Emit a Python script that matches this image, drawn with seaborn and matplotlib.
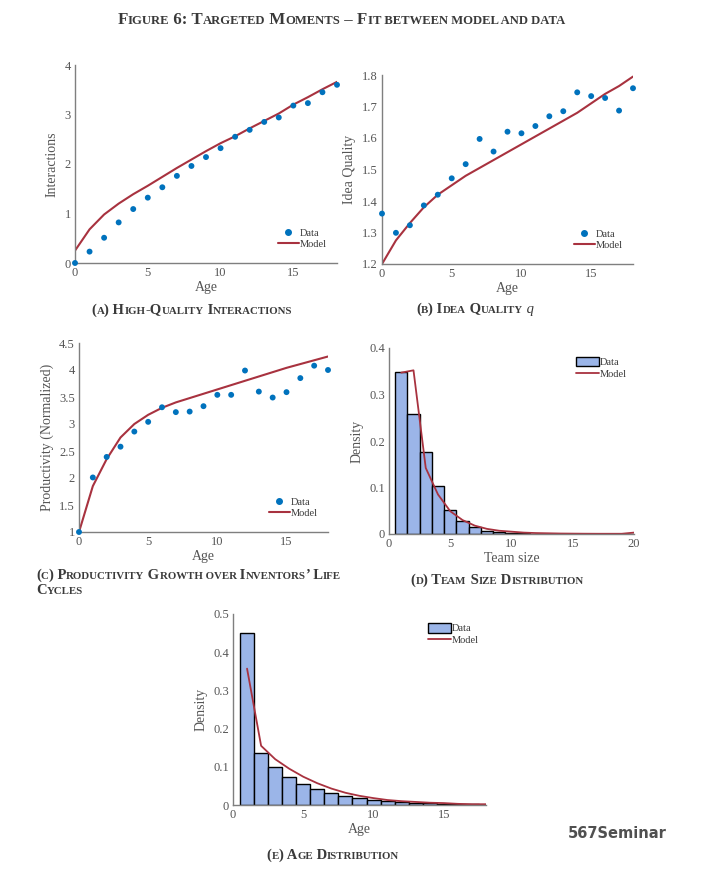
import numpy as np
import pandas as pd
import matplotlib
matplotlib.use("Agg")
import matplotlib.pyplot as plt
import seaborn as sns
from matplotlib.ticker import FuncFormatter
from matplotlib.offsetbox import TextArea, HPacker, AnnotationBbox
from matplotlib.lines import Line2D
from matplotlib.patches import Patch

# ---- data ----
age = list(range(19))

inter_data = [0.0, 0.23, 0.51, 0.82, 1.09, 1.32, 1.53, 1.76, 1.96, 2.14, 2.32,
              2.55, 2.69, 2.85, 2.94, 3.18, 3.23, 3.45, 3.60]
inter_model = [0.25, 0.68, 0.98, 1.20, 1.39, 1.56, 1.74, 1.92, 2.09, 2.26, 2.42,
               2.56, 2.72, 2.87, 3.02, 3.20, 3.35, 3.51, 3.66]

quality_data = [1.360, 1.299, 1.323, 1.386, 1.420, 1.472, 1.517, 1.597, 1.557, 1.620,
                1.615, 1.638, 1.669, 1.685, 1.745, 1.733, 1.727, 1.687, 1.758]
quality_model = [1.20, 1.275, 1.33, 1.38, 1.42, 1.45, 1.48, 1.505, 1.53, 1.555,
                 1.58, 1.605, 1.63, 1.655, 1.68, 1.71, 1.74, 1.765, 1.795]

prod_data = [1.00, 2.01, 2.39, 2.58, 2.86, 3.04, 3.31, 3.22, 3.23, 3.33, 3.54,
             3.54, 3.99, 3.60, 3.49, 3.59, 3.85, 4.08, 4.00]
prod_model = [1.00, 1.85, 2.35, 2.75, 3.00, 3.17, 3.30, 3.40, 3.48, 3.56, 3.64,
              3.72, 3.80, 3.88, 3.96, 4.04, 4.11, 4.18, 4.25]

team_size = list(range(1, 21))
team_density = [0.348, 0.259, 0.176, 0.1025, 0.052, 0.027, 0.014, 0.007, 0.0036, 0.002,
                0.0015, 0.001, 0.0008, 0.0006, 0.0005, 0.0004, 0.0003, 0.0003, 0.0002, 0.0004]
team_model = [0.347, 0.352, 0.142, 0.085, 0.049, 0.030, 0.018, 0.011, 0.007, 0.005,
              0.003, 0.002, 0.0015, 0.001, 0.0008, 0.0006, 0.0005, 0.0005, 0.0005, 0.003]

age_bins = list(range(1, 19))
age_density = [0.449, 0.136, 0.0997, 0.073, 0.055, 0.042, 0.031, 0.024, 0.0175, 0.013,
               0.010, 0.008, 0.006, 0.004, 0.003, 0.002, 0.0015, 0.001]
age_model = [0.357, 0.155, 0.120, 0.095, 0.074, 0.057, 0.043, 0.032, 0.024, 0.018,
             0.013, 0.010, 0.008, 0.006, 0.005, 0.003, 0.002, 0.002]

W, H = 711, 876
BLUE = "#0072BD"
RED = "#A8323F"
BAR = "#9bb5e8"
TXT = "#3a3a3a"
SPINE = "#7f7f7f"

sns.set_theme(style="white")
plt.rcParams["font.family"] = ["Liberation Serif", "DejaVu Serif"]
plt.rcParams["text.color"] = TXT
plt.rcParams["axes.labelcolor"] = "#555555"

fig = plt.figure(figsize=(W / 100, H / 100), dpi=100)
fig.patch.set_facecolor("white")


def ax_at(l, t, r, b):
    return fig.add_axes([l / W, 1 - b / H, (r - l) / W, (b - t) / H])


def style(ax, xlim, ylim, xticks, yticks, xlabel, ylabel):
    ax.set_xlim(*xlim)
    ax.set_ylim(*ylim)
    ax.set_xticks(xticks)
    ax.set_yticks(yticks)
    fmt = FuncFormatter(lambda v, p: "%g" % round(v, 3))
    ax.xaxis.set_major_formatter(fmt)
    ax.yaxis.set_major_formatter(fmt)
    for s in ["top", "right"]:
        ax.spines[s].set_visible(False)
    for s in ["left", "bottom"]:
        ax.spines[s].set_color(SPINE)
        ax.spines[s].set_linewidth(1.0)
    ax.tick_params(direction="in", length=3, width=0.8, color=SPINE,
                   labelsize=9, labelcolor="#555555", pad=3)
    ax.set_xlabel(xlabel, fontsize=10, labelpad=1)
    ax.set_ylabel(ylabel, fontsize=10, labelpad=4)
    ax.set_facecolor("white")


def scatter_panel(ax, ydata, ymodel):
    sns.scatterplot(x=age, y=ydata, ax=ax, color=BLUE, s=18, edgecolor="none",
                    label="Data", clip_on=False, zorder=3)
    sns.lineplot(x=age, y=ymodel, ax=ax, color=RED, lw=1.5, label="Model")
    handles = [Line2D([], [], marker="o", ls="none", color=BLUE, markersize=4),
               Line2D([], [], color=RED, lw=1.5)]
    ax.legend(handles, ["Data", "Model"], loc="lower right", frameon=False,
              fontsize=7.5, handlelength=2.0, handletextpad=0.1, borderaxespad=0.6,
              labelspacing=0.15, bbox_to_anchor=(1.0, 0.02))


def hist_panel(ax, xs, dens, model):
    sns.histplot(x=xs, weights=dens, discrete=True, ax=ax, color=BAR, alpha=1,
                 edgecolor="black", linewidth=1.0)
    sns.lineplot(x=xs, y=model, ax=ax, color=RED, lw=1.3)
    handles = [Patch(facecolor=BAR, edgecolor="black", lw=1.0),
               Line2D([], [], color=RED, lw=1.3)]
    ax.legend(handles, ["Data", "Model"], loc="upper right", frameon=False,
              fontsize=7.5, handlelength=2.2, handleheight=1.0, handletextpad=0.1,
              labelspacing=0.1, borderaxespad=0.3, bbox_to_anchor=(1.0, 0.99))


def smallcaps(s, x, y, big=10.5, small=7.8, ha=0.5, tail=None):
    # group chars: lowercase -> small capitals, spaces join the following run
    kinds = []
    for i, ch in enumerate(s):
        if ch == " ":
            nxt = next((c for c in s[i:] if c != " "), "A")
            kinds.append(nxt.islower())
        else:
            kinds.append(ch.islower())
    runs = []
    for ch, k in zip(s, kinds):
        if runs and runs[-1][1] == k:
            runs[-1][0] += ch
        else:
            runs.append([ch, k])
    boxes = [TextArea(t.upper() if k else t,
                      textprops=dict(fontsize=small if k else big, color=TXT,
                                     fontweight="bold"))
             for t, k in runs]
    if tail:
        boxes.append(TextArea(tail, textprops=dict(fontsize=big, color=TXT,
                                                   style="italic")))
    pack = HPacker(children=boxes, align="baseline", pad=0, sep=0)
    ab = AnnotationBbox(pack, (x / W, 1 - y / H), xycoords="figure fraction",
                        frameon=False, box_alignment=(ha, 0.5), pad=0)
    fig.add_artist(ab)


# (a)
ax = ax_at(75, 65, 337, 263)
scatter_panel(ax, inter_data, inter_model)
style(ax, (0, 18), (0, 4), [0, 5, 10, 15], [0, 1, 2, 3, 4], "Age", "Interactions")

# (b)
ax = ax_at(382, 75, 633, 264)
scatter_panel(ax, quality_data, quality_model)
style(ax, (0, 18), (1.2, 1.8), [0, 5, 10, 15], np.arange(1.2, 1.81, 0.1),
      "Age", "Idea Quality")

# (c)
ax = ax_at(79, 343, 328, 532)
scatter_panel(ax, prod_data, prod_model)
style(ax, (0, 18), (1, 4.5), [0, 5, 10, 15], np.arange(1, 4.51, 0.5),
      "Age", "Productivity (Normalized)")

# (d)
ax = ax_at(389, 348, 634, 534)
hist_panel(ax, team_size, team_density, team_model)
style(ax, (0, 20), (0, 0.4), [0, 5, 10, 15, 20], [0, 0.1, 0.2, 0.3, 0.4],
      "Team size", "Density")

# (e)
ax = ax_at(233, 614, 486, 805)
hist_panel(ax, age_bins, age_density, age_model)
style(ax, (0, 18), (0, 0.5), [0, 5, 10, 15], [0, 0.1, 0.2, 0.3, 0.4, 0.5],
      "Age", "Density")

# captions
smallcaps("Figure 6: Targeted Moments \u2013 Fit between model and data", 341, 20,
          big=12.2, small=9.1)
smallcaps("(a) High-Quality Interactions", 192, 310)
smallcaps("(b) Idea Quality", 475, 309, tail=" q")
smallcaps("(c) Productivity Growth over Inventors\u2019 Life", 36, 575, ha=0)
smallcaps("Cycles", 36, 591, ha=0)
smallcaps("(d) Team Size Distribution", 497, 580)
smallcaps("(e) Age Distribution", 333, 855)

fig.text(568 / W, 1 - 833 / H, "567Seminar", fontsize=10.5, color="#505050",
         family="DejaVu Sans", fontweight="bold", va="center", ha="left")

fig.savefig("out.png", dpi=100, facecolor="white")
